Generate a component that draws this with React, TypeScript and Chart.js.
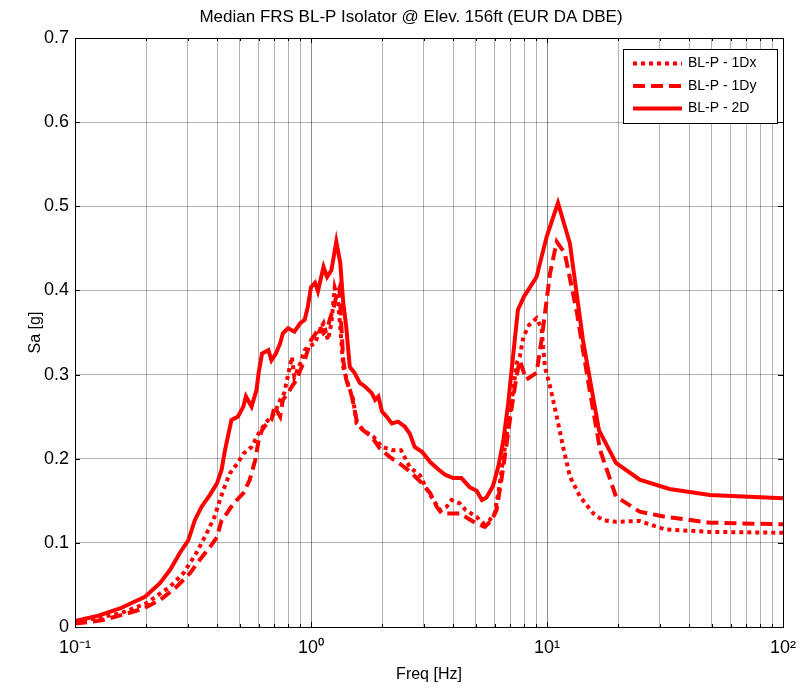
import React, { useEffect, useRef } from "react";
import { Chart, registerables } from "chart.js";

Chart.register(...registerables);

// ---------- data ----------
const chartTitle = "Median FRS BL-P Isolator @ Elev. 156ft (EUR DA DBE)";
const xTitle = "Freq [Hz]";
const yTitle = "Sa [g]";
const seriesLabels = ["BL-P - 1Dx", "BL-P - 1Dy", "BL-P - 2D"];

const xTickValues = [
  0.1, 0.2, 0.3, 0.4, 0.5, 0.6, 0.7, 0.8, 0.9,
  1, 2, 3, 4, 5, 6, 7, 8, 9,
  10, 20, 30, 40, 50, 60, 70, 80, 90, 100,
];
const xDecades = [0.1, 1, 10, 100];
const xDecadeLabels = ["10\u207B\u00B9", "10\u2070", "10\u00B9", "10\u00B2"];
const yTickLabels = ["0", "0.1", "0.2", "0.3", "0.4", "0.5", "0.6", "0.7"];

const freq1Dx = [
  0.1, 0.155, 0.2, 0.253, 0.288, 0.327, 0.361, 0.39, 0.425, 0.454, 0.49, 0.517,
  0.56, 0.6, 0.64, 0.7, 0.74, 0.77, 0.83, 0.85, 0.9, 0.94, 0.97, 1.04, 1.09,
  1.13, 1.18, 1.22, 1.26, 1.3, 1.33, 1.37, 1.43, 1.51, 1.56, 1.66, 1.84, 2.0,
  2.23, 2.41, 2.62, 2.9, 3.05, 3.3, 3.52, 3.76, 3.94, 4.27, 4.52, 5.03, 5.37,
  5.71, 6.0, 6.27, 6.6, 6.85, 7.2, 7.42, 7.66, 7.95, 8.4, 9.03, 9.48, 9.8,
  10.3, 11.0, 11.7, 12.5, 13.8, 15.7, 17.2, 19.6, 24.7, 31.7, 49, 100,
];
const sa1Dx = [
  0.006, 0.016, 0.028, 0.048, 0.064, 0.088, 0.111, 0.131, 0.163, 0.183, 0.195, 0.206,
  0.214, 0.23, 0.242, 0.254, 0.27, 0.278, 0.321, 0.297, 0.313, 0.329, 0.333, 0.337, 0.353,
  0.361, 0.341, 0.361, 0.403, 0.389, 0.357, 0.309, 0.29, 0.27, 0.242, 0.234, 0.226, 0.214,
  0.21, 0.21, 0.19, 0.18, 0.167, 0.151, 0.139, 0.143, 0.151, 0.147, 0.139, 0.131, 0.123,
  0.127, 0.135, 0.165, 0.21, 0.24, 0.282, 0.313, 0.321, 0.345, 0.359, 0.367, 0.355, 0.309,
  0.286, 0.25, 0.214, 0.179, 0.155, 0.135, 0.127, 0.125, 0.126, 0.116, 0.113, 0.112,
];

const freq1Dy = [
  0.1, 0.13, 0.166, 0.195, 0.229, 0.27, 0.307, 0.338, 0.373, 0.4, 0.418, 0.43,
  0.47, 0.517, 0.55, 0.58, 0.6, 0.62, 0.65, 0.68, 0.7, 0.74, 0.76, 0.8, 0.83,
  0.87, 0.9, 0.94, 0.97, 1.0, 1.06, 1.09, 1.13, 1.17, 1.2, 1.25, 1.28, 1.32,
  1.34, 1.37, 1.41, 1.49, 1.56, 1.66, 1.81, 1.96, 2.16, 2.38, 2.62, 2.9, 3.2,
  3.41, 3.58, 3.88, 4.27, 4.63, 5.03, 5.45, 5.83, 6.11, 6.41, 6.73, 7.06, 7.42,
  7.66, 8.17, 9.03, 9.48, 10.3, 11.0, 11.9, 13.4, 14.9, 16.8, 19.6, 24.7, 31.7,
  49, 100,
];
const sa1Dy = [
  0.004, 0.008, 0.016, 0.022, 0.032, 0.048, 0.064, 0.08, 0.095, 0.107, 0.127, 0.131,
  0.147, 0.159, 0.175, 0.198, 0.222, 0.234, 0.242, 0.246, 0.262, 0.25, 0.27, 0.278, 0.286,
  0.294, 0.305, 0.317, 0.329, 0.341, 0.351, 0.357, 0.349, 0.353, 0.365, 0.381, 0.393, 0.403,
  0.365, 0.317, 0.294, 0.274, 0.246, 0.234, 0.226, 0.212, 0.202, 0.194, 0.185, 0.173, 0.159,
  0.143, 0.135, 0.135, 0.135, 0.129, 0.123, 0.119, 0.127, 0.139, 0.175, 0.216, 0.258, 0.297,
  0.317, 0.294, 0.302, 0.341, 0.42, 0.458, 0.444, 0.373, 0.294, 0.21, 0.155, 0.137, 0.131,
  0.124, 0.122,
];

const freq2D = [
  0.1, 0.124, 0.155, 0.198, 0.229, 0.253, 0.278, 0.302, 0.322, 0.344, 0.373, 0.4,
  0.418, 0.432, 0.46, 0.49, 0.517, 0.53, 0.56, 0.588, 0.6, 0.62, 0.66, 0.68, 0.71,
  0.74, 0.76, 0.8, 0.85, 0.9, 0.94, 0.97, 1.0, 1.04, 1.07, 1.13, 1.17, 1.22, 1.28,
  1.33, 1.37, 1.41, 1.46, 1.53, 1.61, 1.69, 1.81, 1.87, 1.93, 2.0, 2.09, 2.2,
  2.34, 2.5, 2.62, 2.75, 2.96, 3.2, 3.41, 3.7, 4.0, 4.34, 4.71, 5.03, 5.3, 5.54,
  5.91, 6.21, 6.52, 6.85, 7.06, 7.53, 8.0, 9.03, 9.97, 11.13, 12.5, 14.2, 16.6,
  19.6, 24.7, 33, 49, 100,
];
const sa2D = [
  0.007, 0.013, 0.022, 0.036, 0.052, 0.068, 0.088, 0.103, 0.127, 0.143, 0.157, 0.171,
  0.187, 0.21, 0.246, 0.25, 0.262, 0.274, 0.262, 0.282, 0.302, 0.325, 0.329, 0.317, 0.325,
  0.337, 0.349, 0.355, 0.351, 0.361, 0.365, 0.381, 0.404, 0.409, 0.399, 0.428, 0.416, 0.424, 0.458,
  0.433, 0.385, 0.357, 0.309, 0.302, 0.29, 0.286, 0.278, 0.27, 0.274, 0.256, 0.25, 0.242,
  0.244, 0.238, 0.23, 0.214, 0.208, 0.196, 0.189, 0.181, 0.177, 0.177, 0.166, 0.162, 0.151, 0.154,
  0.168, 0.19, 0.22, 0.266, 0.302, 0.377, 0.393, 0.416, 0.464, 0.504, 0.456, 0.341, 0.234,
  0.195, 0.175, 0.164, 0.157, 0.153,
];

const RED = "#ff0000";
const FONT = "'Liberation Sans', Arial, Helvetica, sans-serif";

const toPoints = (xs: number[], ys: number[]) => xs.map((x, i) => ({ x, y: ys[i] }));
const isDecade = (v: number) => Math.abs(Math.log10(v) - Math.round(Math.log10(v))) < 1e-9;

// title, centred as in the reference figure
const titlePlugin = {
  id: "matlabTitle",
  afterDraw(chart: any) {
    const { ctx } = chart;
    ctx.save();
    ctx.fillStyle = "#000";
    ctx.font = `17px ${FONT}`;
    ctx.textAlign = "center";
    ctx.textBaseline = "middle";
    ctx.fillText(chartTitle, 411, 17);
    ctx.restore();
  },
};

// frame + inner tick marks, MATLAB style
const framePlugin = {
  id: "matlabFrame",
  afterDraw(chart: any) {
    const { ctx, chartArea } = chart;
    const { left, right, top, bottom } = chartArea;
    const xs = chart.scales.x;
    const ys = chart.scales.y;
    ctx.save();
    ctx.strokeStyle = "#000";
    ctx.lineWidth = 1;
    ctx.setLineDash([]);
    ctx.beginPath();
    xTickValues.forEach((v) => {
      const px = Math.round(xs.getPixelForValue(v)) + 0.5;
      const len = isDecade(v) ? 5 : 3;
      ctx.moveTo(px, bottom);
      ctx.lineTo(px, bottom - len);
      ctx.moveTo(px, top);
      ctx.lineTo(px, top + len);
    });
    yTickLabels.forEach((t) => {
      const py = Math.round(ys.getPixelForValue(parseFloat(t))) + 0.5;
      ctx.moveTo(left, py);
      ctx.lineTo(left + 5, py);
      ctx.moveTo(right, py);
      ctx.lineTo(right - 5, py);
    });
    ctx.stroke();
    ctx.strokeRect(Math.round(left) + 0.5, Math.round(top) + 0.5, Math.round(right - left), Math.round(bottom - top));
    ctx.restore();
  },
};

// legend box inside the axes (north-east), MATLAB style
const legendPlugin = {
  id: "matlabLegend",
  afterDraw(chart: any) {
    const { ctx, chartArea } = chart;
    const boxRight = Math.round(chartArea.right) - 6;
    const boxLeft = boxRight - 154;
    const boxTop = Math.round(chartArea.top) + 11;
    const boxH = 74;
    ctx.save();
    ctx.fillStyle = "#fff";
    ctx.fillRect(boxLeft, boxTop, boxRight - boxLeft, boxH);
    ctx.strokeStyle = "#000";
    ctx.lineWidth = 1;
    ctx.setLineDash([]);
    ctx.strokeRect(boxLeft + 0.5, boxTop + 0.5, boxRight - boxLeft, boxH);
    const dsList = chart.data.datasets;
    dsList.forEach((ds: any, i: number) => {
      const y = boxTop + 14.5 + i * 22.5;
      ctx.strokeStyle = ds.borderColor;
      ctx.lineWidth = ds.borderWidth;
      ctx.lineCap = "butt";
      ctx.setLineDash(ds.borderDash || []);
      ctx.beginPath();
      ctx.moveTo(boxLeft + 10, y);
      ctx.lineTo(boxLeft + 59, y);
      ctx.stroke();
      ctx.setLineDash([]);
      ctx.fillStyle = "#000";
      ctx.font = `14px ${FONT}`;
      ctx.textAlign = "left";
      ctx.textBaseline = "middle";
      ctx.fillText(ds.label, boxLeft + 65, y);
    });
    ctx.restore();
  },
};

export default function App() {
  const canvasRef = useRef<HTMLCanvasElement | null>(null);

  useEffect(() => {
    if (!canvasRef.current) return;
    const chart = new Chart(canvasRef.current, {
      type: "line",
      data: {
        datasets: [
          {
            label: seriesLabels[0],
            data: toPoints(freq1Dx, sa1Dx),
            borderColor: RED,
            backgroundColor: RED,
            borderWidth: 4,
            borderDash: [4, 4],
            borderCapStyle: "butt",
            pointRadius: 0,
            tension: 0,
            order: 3,
          },
          {
            label: seriesLabels[1],
            data: toPoints(freq1Dy, sa1Dy),
            borderColor: RED,
            backgroundColor: RED,
            borderWidth: 4,
            borderDash: [12, 6],
            borderCapStyle: "butt",
            pointRadius: 0,
            tension: 0,
            order: 2,
          },
          {
            label: seriesLabels[2],
            data: toPoints(freq2D, sa2D),
            borderColor: RED,
            backgroundColor: RED,
            borderWidth: 4,
            pointRadius: 0,
            tension: 0,
            order: 1,
          },
        ],
      },
      options: {
        animation: false,
        responsive: true,
        maintainAspectRatio: false,
        layout: { padding: { left: 0, right: 18, top: 38, bottom: 0 } },
        plugins: {
          legend: { display: false },
          tooltip: { enabled: false },
          title: { display: false },
        },
        scales: {
          x: {
            type: "logarithmic",
            min: 0.1,
            max: 100,
            afterBuildTicks: (scale: any) => {
              scale.ticks = xTickValues.map((v) => ({ value: v }));
            },
            afterFit: (scale: any) => {
              scale.height = 63;
              scale.paddingLeft = 0;
              scale.paddingRight = 0;
            },
            ticks: {
              autoSkip: false,
              maxRotation: 0,
              minRotation: 0,
              padding: 10,
              color: "#000",
              font: { family: FONT, size: 18 },
              callback: (value: any) => {
                const v = Number(value);
                const idx = xDecades.findIndex((d) => Math.abs(d - v) / d < 1e-9);
                return idx >= 0 ? xDecadeLabels[idx] : "";
              },
            },
            grid: {
              drawTicks: false,
              color: (c: any) => (c.tick && isDecade(c.tick.value) ? "rgba(0,0,0,0.45)" : "rgba(0,0,0,0.3)"),
              lineWidth: 1,
            },
            border: { display: false },
            title: {
              display: true,
              text: xTitle,
              color: "#000",
              font: { family: FONT, size: 16, lineHeight: 1.2 },
              padding: { top: 0, bottom: 6 },
            },
          },
          y: {
            type: "linear",
            min: 0,
            max: 0.7,
            afterBuildTicks: (scale: any) => {
              scale.ticks = yTickLabels.map((t) => ({ value: parseFloat(t) }));
            },
            afterFit: (scale: any) => {
              scale.width = 75;
              scale.paddingTop = 0;
              scale.paddingBottom = 0;
            },
            ticks: {
              padding: 6,
              color: "#000",
              font: { family: FONT, size: 18 },
              callback: (value: any) => {
                const v = Number(value);
                const idx = yTickLabels.findIndex((t) => Math.abs(parseFloat(t) - v) < 1e-9);
                return idx >= 0 ? yTickLabels[idx] : "";
              },
            },
            grid: {
              drawTicks: false,
              color: "rgba(0,0,0,0.3)",
              lineWidth: 1,
            },
            border: { display: false },
            title: {
              display: true,
              text: yTitle,
              color: "#000",
              font: { family: FONT, size: 16, lineHeight: 1.2 },
              padding: { top: 26, bottom: 0 },
            },
          },
        },
      },
      plugins: [framePlugin, legendPlugin, titlePlugin],
    } as any);
    return () => chart.destroy();
  }, []);

  return (
    <div style={{ position: "absolute", left: 0, top: 0, width: 801, height: 690, background: "#fff" }}>
      <canvas ref={canvasRef} />
    </div>
  );
}
